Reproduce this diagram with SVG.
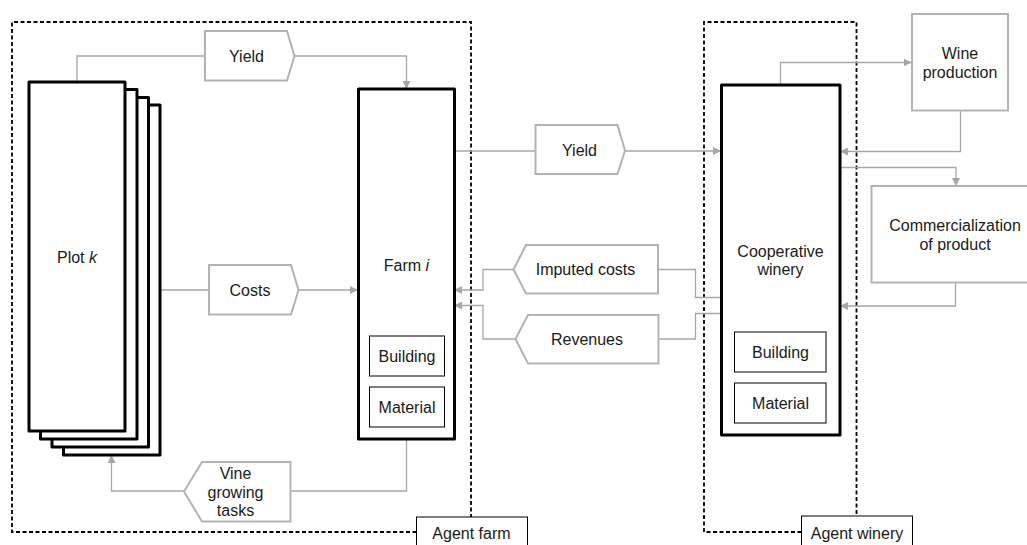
<svg xmlns="http://www.w3.org/2000/svg" width="1027" height="545" viewBox="0 0 1027 545">
<style>
  text { font-family: "Liberation Sans", Arial, sans-serif; font-size: 16px; fill: #1a1a1a; text-anchor: middle; }
  .node { fill: #ffffff; stroke: #000000; stroke-width: 3; stroke-linejoin: round; }
  .inner { fill: #ffffff; stroke: #000000; stroke-width: 1; }
  .grey { fill: #ffffff; stroke: #b3b3b3; stroke-width: 2; }
  .flow { fill: #ffffff; stroke: #b3b3b3; stroke-width: 2; stroke-linejoin: miter; }
  .agent { fill: none; stroke: #000000; stroke-width: 1.8; stroke-dasharray: 4 2.5; }
  .label { fill: #ffffff; stroke: #000000; stroke-width: 1; }
  .conn { fill: none; stroke: #a6a6a6; stroke-width: 1.3; }
  .arr { marker-end: url(#ah); }
</style>
<defs>
  <marker id="ah" viewBox="0 0 10 10" refX="10" refY="5" markerWidth="8" markerHeight="8" markerUnits="userSpaceOnUse" orient="auto">
    <path d="M0,0 L10,5 L0,10 Z" fill="#a6a6a6"/>
  </marker>
</defs>
<rect width="1027" height="545" fill="#ffffff"/>

<!-- Agent boundaries -->
<g id="agent-farm">
  <path class="agent" d="M416.5,532 H12 V22 H471 V517"/>
  <rect class="label" x="416.5" y="517" width="111" height="34"/>
  <text x="471.5" y="538.5">Agent farm</text>
</g>
<g id="agent-winery">
  <path class="agent" d="M801.5,532 H704 V22 H856.5 V516"/>
  <rect class="label" x="801.5" y="516" width="111" height="35"/>
  <text x="857" y="538.5">Agent winery</text>
</g>

<!-- Connectors -->
<g id="connectors">
  <path class="conn" d="M77,82 V56 H205"/>
  <path class="conn arr" d="M294,56 H406.5 V89"/>
  <path class="conn" d="M160,290 H209"/>
  <path class="conn arr" d="M298.5,290 H358"/>
  <path class="conn" d="M406.5,439 V491 H290.5"/>
  <path class="conn arr" d="M184,491 H111.5 V455"/>
  <path class="conn" d="M454,151 H535.5"/>
  <path class="conn arr" d="M625,151 H721"/>
  <path class="conn" d="M721,297.5 H695.5 V269.5 H658"/>
  <path class="conn arr" d="M513.5,269.5 H483 V290 H454"/>
  <path class="conn" d="M721,313.5 H695.5 V339 H658.5"/>
  <path class="conn arr" d="M515.5,339 H483 V305.5 H454"/>
  <path class="conn arr" d="M780.5,85 V62.5 H911.5"/>
  <path class="conn arr" d="M960.5,110.5 V151.5 H840"/>
  <path class="conn arr" d="M840,167.5 H956 V186"/>
  <path class="conn arr" d="M955.5,282.5 V306 H840"/>
</g>

<!-- Plot stack -->
<g id="plot-k">
  <rect class="node" x="63.5" y="105" width="96.5" height="350"/>
  <rect class="node" x="52" y="97.5" width="96.5" height="349.5"/>
  <rect class="node" x="40.5" y="89.5" width="96.5" height="349.5"/>
  <rect class="node" x="29" y="82" width="96" height="349"/>
  <text x="77" y="262.5">Plot <tspan font-style="italic">k</tspan></text>
</g>

<!-- Farm -->
<g id="farm-i">
  <rect class="node" x="358.5" y="89" width="96" height="350"/>
  <text x="406.5" y="270.5">Farm <tspan font-style="italic">i</tspan></text>
  <rect class="inner" x="369.5" y="336" width="75" height="40"/>
  <text x="407" y="361.5">Building</text>
  <rect class="inner" x="369.5" y="387" width="75" height="40"/>
  <text x="407" y="412.5">Material</text>
</g>

<!-- Flows -->
<g id="flow-yield-plot">
  <path class="flow" d="M205,31 H287 L294.5,56 L287,80.5 H205 Z"/>
  <text x="246.5" y="61.5">Yield</text>
</g>
<g id="flow-costs">
  <path class="flow" d="M209,265 H291 L298.5,290 L291,314.5 H209 Z"/>
  <text x="250" y="295.5">Costs</text>
</g>
<g id="flow-vine">
  <path class="flow" d="M202,462 H290.5 V521.5 H202 L184,491.5 Z"/>
  <text x="235.5" y="478.5">Vine</text>
  <text x="235.5" y="497.5">growing</text>
  <text x="235.5" y="515.5">tasks</text>
</g>
<g id="flow-yield-winery">
  <path class="flow" d="M535.5,125 H617.5 L625,150.5 L617.5,174 H535.5 Z"/>
  <text x="579.5" y="156">Yield</text>
</g>
<g id="flow-imputed">
  <path class="flow" d="M526,245 H658 V293.5 H526 L513.5,269.5 Z"/>
  <text x="585.5" y="275">Imputed costs</text>
</g>
<g id="flow-revenues">
  <path class="flow" d="M528,315 H658.5 V363.5 H528 L515.5,339 Z"/>
  <text x="587" y="344.5">Revenues</text>
</g>

<!-- Winery -->
<g id="cooperative-winery">
  <rect class="node" x="721.5" y="85" width="118.5" height="350"/>
  <text x="780.5" y="257">Cooperative</text>
  <text x="780.5" y="275">winery</text>
  <rect class="inner" x="734.5" y="332" width="91.5" height="40"/>
  <text x="780.5" y="357.5">Building</text>
  <rect class="inner" x="734.5" y="383" width="91.5" height="40"/>
  <text x="780.5" y="408.5">Material</text>
</g>
<g id="wine-production">
  <rect class="grey" x="912" y="14" width="96" height="96.5"/>
  <text x="960" y="58.5">Wine</text>
  <text x="960" y="77.5">production</text>
</g>
<g id="commercialization">
  <rect class="grey" x="871.5" y="186" width="165" height="96.5"/>
  <text x="955" y="230.5">Commercialization</text>
  <text x="955" y="249.5">of product</text>
</g>
</svg>
